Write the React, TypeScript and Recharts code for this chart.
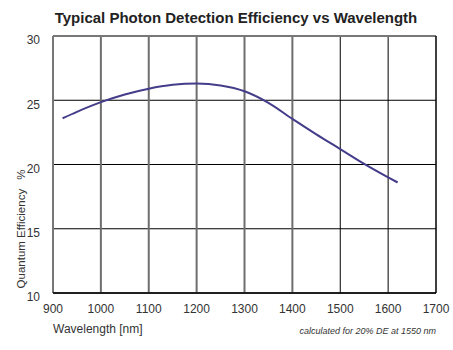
import { LineChart, Line, XAxis, YAxis, CartesianGrid, ReferenceLine } from "recharts";

const wavelengths = [920, 950, 1000, 1050, 1100, 1150, 1200, 1250, 1300, 1350, 1400, 1450, 1500, 1550, 1600, 1620];
const efficiency = [23.6, 24.1, 24.85, 25.45, 25.9, 26.2, 26.3, 26.15, 25.7, 24.8, 23.55, 22.35, 21.2, 20.05, 19.0, 18.6];

const xTicks = [900, 1000, 1100, 1200, 1300, 1400, 1500, 1600, 1700];
const yTicks = [10, 15, 20, 25, 30];
const greyLines = [1000, 1100, 1200, 1300, 1400];
const blackLines = [1500, 1600];

const data = wavelengths.map((w, i) => ({ w, qe: efficiency[i] }));

const font = "'Liberation Sans', Arial, sans-serif";

export default function App() {
  return (
    <div style={{ position: "absolute", left: 0, top: 0, width: 453, height: 350, background: "#fff", fontFamily: font }}>
      <div
        style={{
          position: "absolute",
          left: 0,
          width: 453,
          top: 9,
          textAlign: "center",
          fontWeight: "bold",
          fontSize: 15,
          paddingLeft: 19,
          boxSizing: "border-box",
          color: "#222",
        }}
      >
        Typical Photon Detection Efficiency vs Wavelength
      </div>
      <LineChart width={453} height={350} data={data} margin={{ top: 36, right: 17, bottom: 27, left: 8 }}>
        <CartesianGrid vertical={false} stroke="#000" strokeOpacity={1} />
        {greyLines.map((v) => (
          <ReferenceLine key={v} x={v} stroke="#6e6e6e" strokeWidth={2} />
        ))}
        {blackLines.map((v) => (
          <ReferenceLine key={v} x={v} stroke="#000" strokeWidth={1} />
        ))}
        <ReferenceLine y={30} stroke="#777" strokeWidth={2} />
        <ReferenceLine x={900} stroke="#777" strokeWidth={2} />
        <ReferenceLine x={1700} stroke="#000" strokeWidth={1.5} />
        <XAxis
          dataKey="w"
          type="number"
          domain={[900, 1700]}
          ticks={xTicks}
          tickLine={false}
          axisLine={{ stroke: "#000", strokeWidth: 1.5 }}
          tick={{ fontSize: 12, fill: "#333", fontFamily: font }}
          tickMargin={5}
          height={30}
        />
        <YAxis
          type="number"
          domain={[10, 30]}
          ticks={yTicks}
          tickLine={false}
          axisLine={false}
          tick={{ fontSize: 12, fill: "#333", fontFamily: font, dy: 4 }}
          tickMargin={7}
          width={45}
        />
        <Line
          type="monotone"
          dataKey="qe"
          stroke="#433d8a"
          strokeWidth={2}
          dot={false}
          isAnimationActive={false}
        />
      </LineChart>
      <div
        style={{
          position: "absolute",
          left: 21,
          top: 229,
          transform: "translate(-50%, -50%) rotate(-90deg)",
          fontSize: 11.5,
          lineHeight: "12px",
          color: "#333",
          whiteSpace: "nowrap",
        }}
      >
        Quantum Efficiency<span style={{ marginLeft: 9 }}>%</span>
      </div>
      <div style={{ position: "absolute", left: 53, top: 322, fontSize: 12, color: "#333" }}>Wavelength [nm]</div>
      <div
        style={{
          position: "absolute",
          right: 17,
          top: 326,
          fontSize: 9,
          fontStyle: "italic",
          color: "#333",
        }}
      >
        calculated for 20% DE at 1550 nm
      </div>
    </div>
  );
}
